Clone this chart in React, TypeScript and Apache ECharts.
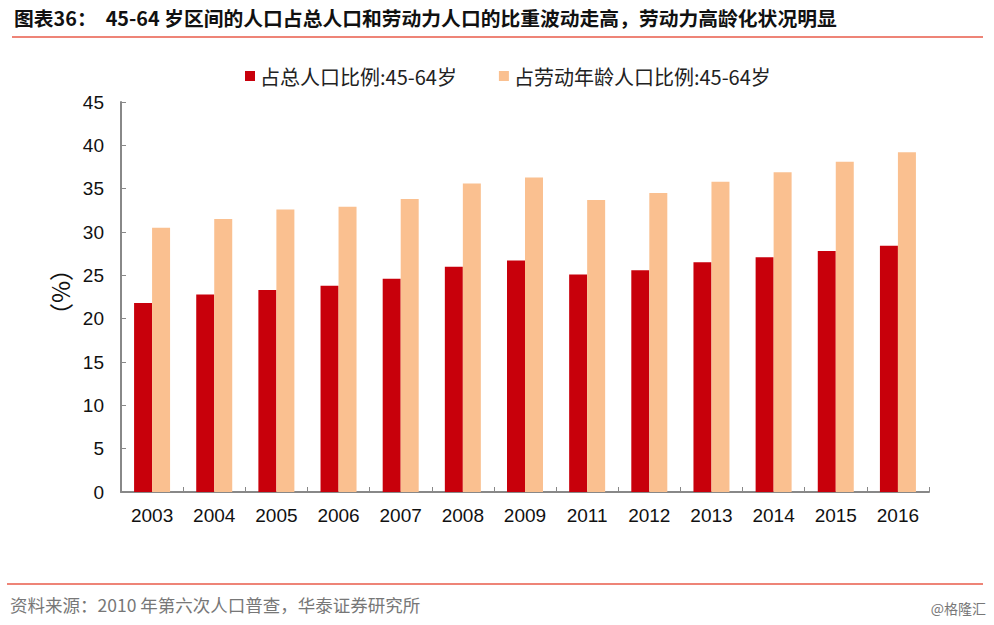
import React, { useEffect, useRef } from "react";
import * as echarts from "echarts";

const categories = ["2003", "2004", "2005", "2006", "2007", "2008", "2009", "2011", "2012", "2013", "2014", "2015", "2016"];
const totalShare = [21.8, 22.8, 23.3, 23.8, 24.6, 26.0, 26.7, 25.1, 25.6, 26.5, 27.1, 27.8, 28.4];
const laborShare = [30.5, 31.5, 32.6, 32.9, 33.8, 35.6, 36.3, 33.7, 34.5, 35.8, 36.9, 38.1, 39.2];
const seriesNames = ["占总人口比例:45-64岁", "占劳动年龄人口比例:45-64岁"];
const titleText = "图表36：  45-64 岁区间的人口占总人口和劳动力人口的比重波动走高，劳动力高龄化状况明显";
const sourceText = "资料来源：2010 年第六次人口普查，华泰证券研究所";
const watermark = "@格隆汇";

export default function App() {
  const ref = useRef<HTMLDivElement>(null);
  useEffect(() => {
    const chart = echarts.init(ref.current!, null, { renderer: "svg" });
    const font = "Arial, 'Liberation Sans', 'Noto Sans CJK SC', sans-serif";
    const cjk = "'Noto Sans CJK SC', sans-serif";
    chart.setOption({
      animation: false,
      backgroundColor: "#fff",
      textStyle: { fontFamily: font },
      grid: { left: 121, right: 65, top: 102, bottom: 133, containLabel: false },
      legend: {
        top: 61,
        left: 240,
        itemWidth: 10,
        itemHeight: 10,
        itemGap: 42,
        icon: "rect",
        textStyle: { fontSize: 20, color: "#222", fontFamily: cjk },
        data: seriesNames,
      },
      xAxis: {
        type: "category",
        data: categories,
        axisLine: { lineStyle: { color: "#888", width: 2 } },
        axisTick: { show: true, inside: true, length: 5, lineStyle: { color: "#888" } },
        axisLabel: { fontSize: 19, color: "#111", margin: 14 },
      },
      yAxis: {
        type: "value",
        min: 0,
        max: 45,
        interval: 5,
        name: "（%）",
        nameLocation: "middle",
        nameGap: 44,
        nameRotate: 90,
        nameTextStyle: { fontSize: 24, color: "#111", fontFamily: cjk, padding: [0, 0, 0, 10] },
        axisLine: { show: true, lineStyle: { color: "#888", width: 2 } },
        axisTick: { show: true, inside: true, length: 5, lineStyle: { color: "#888" } },
        splitLine: { show: false },
        axisLabel: { fontSize: 19, color: "#111", margin: 17 },
      },
      series: [
        {
          name: seriesNames[0],
          type: "bar",
          data: totalShare,
          barWidth: 18,
          barGap: "0%",
          itemStyle: { color: "#C8000B" },
        },
        {
          name: seriesNames[1],
          type: "bar",
          data: laborShare,
          barWidth: 18,
          barGap: "0%",
          itemStyle: { color: "#FAC090" },
        },
      ],
      graphic: [
        {
          type: "text",
          left: 14,
          top: 8,
          style: {
            text: titleText,
            fontSize: 19.8,
            fontWeight: "bold",
            fill: "#111",
            fontFamily: cjk,
          },
        },
        {
          type: "line",
          shape: { x1: 12, y1: 37, x2: 983, y2: 37 },
          style: { stroke: "#EE8477", lineWidth: 2 },
        },
        {
          type: "line",
          shape: { x1: 7, y1: 584, x2: 983, y2: 584 },
          style: { stroke: "#EE8477", lineWidth: 2 },
        },
        {
          type: "text",
          left: 10,
          top: 596,
          style: {
            text: sourceText,
            fontSize: 17.5,
            fill: "#777",
            fontFamily: cjk,
          },
        },
        {
          type: "text",
          right: 8,
          top: 601,
          style: {
            text: watermark,
            fontSize: 14,
            fill: "#777",
            fontFamily: cjk,
          },
        },
      ],
    });
    return () => chart.dispose();
  }, []);
  return (
    <div
      ref={ref}
      style={{ position: "fixed", left: 0, top: 0, width: 994, height: 625 }}
    />
  );
}
